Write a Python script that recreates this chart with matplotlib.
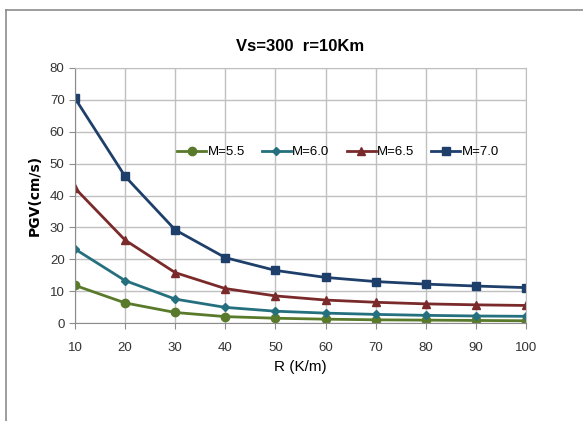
import numpy as np
import matplotlib
matplotlib.use('Agg')
import matplotlib.pyplot as plt
from matplotlib.lines import Line2D

# 거리 (R)
r_km = [10, 20, 30, 40, 50, 60, 70, 80, 90, 100]

# 규모별 PGV
pgv_m55 = [11.8, 6.3, 3.3, 2.0, 1.5, 1.2, 1.0, 0.9, 0.8, 0.7]
pgv_m60 = [23.2, 13.3, 7.5, 4.9, 3.7, 3.1, 2.7, 2.4, 2.2, 2.1]
pgv_m65 = [42.3, 26.0, 15.8, 10.8, 8.5, 7.2, 6.5, 6.0, 5.7, 5.5]
pgv_m70 = [70.5, 46.0, 29.2, 20.5, 16.5, 14.3, 13.0, 12.2, 11.6, 11.1]

labels = ['M=5.5', 'M=6.0', 'M=6.5', 'M=7.0']

plt.rcParams['font.family'] = ['Liberation Sans', 'DejaVu Sans']

fig = plt.figure(figsize=(5.83, 4.21), dpi=100)
fig.patch.set_facecolor('white')

# 바깥 테두리
fig.add_artist(Line2D([6/583, 6/583], [0, 1 - 10/421], transform=fig.transFigure, color='#8c8c8c', lw=1.2))
fig.add_artist(Line2D([6/583, 1], [1 - 10/421, 1 - 10/421], transform=fig.transFigure, color='#8c8c8c', lw=1.2))

ax = fig.add_axes([75/583, 1 - 323/421, 451/583, 255/421])

ax.plot(r_km, pgv_m55, color='#5a7a2b', lw=2, marker='o', ms=6, label=labels[0])
ax.plot(r_km, pgv_m60, color='#25707e', lw=2, marker='D', ms=4, label=labels[1])
ax.plot(r_km, pgv_m65, color='#7a2a2a', lw=2, marker='^', ms=5.5, label=labels[2])
ax.plot(r_km, pgv_m70, color='#1f3f6b', lw=2, marker='s', ms=5.5, label=labels[3])

ax.set_xlim(10, 100)
ax.set_ylim(0, 80)
ax.set_xticks(r_km)
ax.set_yticks(np.arange(0, 81, 10))
ax.grid(True, color='#c0c0c0', lw=1)
ax.set_axisbelow(True)
for s in ax.spines.values():
    s.set_color('#c0c0c0')
ax.spines['left'].set_color('#8c8c8c')
ax.spines['bottom'].set_color('#8c8c8c')
ax.tick_params(axis='both', colors='#8c8c8c', labelcolor='#333333', labelsize=9.5, length=4)
ax.tick_params(axis='x', pad=10)

ax.set_title('Vs=300  r=10Km', fontsize=12, fontweight='bold', pad=12)
ax.set_ylabel('PGV(cm/s)', fontsize=10, fontweight='bold', family='DejaVu Sans', labelpad=6)
ax.set_xlabel('R (K/m)', fontsize=11, labelpad=4)

ax.legend(loc='center left', bbox_to_anchor=(0.2, 0.67), ncol=4, frameon=False,
          fontsize=9.5, handlelength=2.2, handletextpad=0.1, columnspacing=1.3)

plt.savefig('out.png', dpi=100)
